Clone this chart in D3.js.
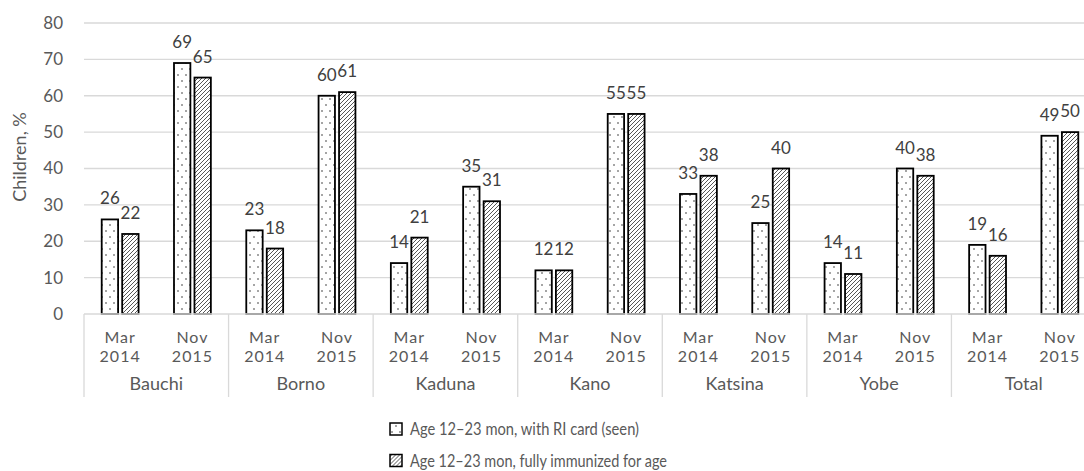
<!DOCTYPE html>
<html><head><meta charset="utf-8">
<script src="https://cdn.jsdelivr.net/npm/d3@7"></script>
<style>html,body{margin:0;padding:0;background:#fff;overflow:hidden}svg{display:block}</style>
</head><body>
<svg id="chart" width="1084" height="471"></svg>
<script>
const states = ["Bauchi","Borno","Kaduna","Kano","Katsina","Yobe","Total"];
const periods = ["Mar 2014","Nov 2015"];
const seriesNames = ["Age 12\u201323 mon, with RI card (seen)","Age 12\u201323 mon, fully immunized for age"];
// values per state: [Mar 2014, Nov 2015]
const withCard = [[26,69],[23,60],[14,35],[12,55],[33,25],[14,40],[19,49]];
const fullyImmunized = [[22,65],[18,61],[21,31],[12,55],[38,40],[11,38],[16,50]];
const yTicks = [0,10,20,30,40,50,60,70,80];

const svg = d3.select("#chart");
const FONT = "Lato, 'Open Sans', sans-serif";
const defs = svg.append("defs");
const dots = defs.append("pattern").attr("id","dots").attr("patternUnits","userSpaceOnUse")
  .attr("width",8).attr("height",12);
dots.append("rect").attr("width",8).attr("height",12).attr("fill","#fff");
dots.append("circle").attr("cx",2).attr("cy",3).attr("r",0.8).attr("fill","#333");
dots.append("circle").attr("cx",6).attr("cy",9).attr("r",0.8).attr("fill","#333");
const hatch = defs.append("pattern").attr("id","hatch").attr("patternUnits","userSpaceOnUse")
  .attr("width",4).attr("height",4);
hatch.append("rect").attr("width",4).attr("height",4).attr("fill","#fff");
hatch.append("path").attr("d","M-1,1 L1,-1 M0,4 L4,0 M3,5 L5,3").attr("stroke","#444").attr("stroke-width",0.9);
const fills = ["url(#dots)","url(#hatch)"];

const x0 = d3.scaleBand().domain(states).range([84,1096]).paddingInner(0).paddingOuter(0);
const x1 = d3.scaleBand().domain(periods).range([0,x0.bandwidth()]);
const x2 = d3.scaleBand().domain([0,1]).range([x1.bandwidth()*0.245,x1.bandwidth()*0.755]).paddingInner(0.2);
const y = d3.scaleLinear().domain([0,80]).range([314,23]);

// gridlines
svg.append("g").selectAll("line").data(yTicks.filter(d=>d>0)).join("line")
  .attr("x1",84).attr("x2",1096).attr("y1",d=>y(d)).attr("y2",d=>y(d))
  .attr("stroke","#d9d9d9").attr("stroke-width",1.3);

// y axis
const yAxis = svg.append("g").attr("transform","translate(63,0)")
  .call(d3.axisLeft(y).tickValues(yTicks).tickSize(0).tickPadding(0));
yAxis.select(".domain").remove();
yAxis.selectAll("text").attr("font-family",FONT).attr("font-size",17).attr("fill","#595959");

svg.append("text").attr("transform","translate(26,157) rotate(-90)").attr("text-anchor","middle")
  .attr("font-family",FONT).attr("font-size",18).attr("fill","#595959").text("Children, %");

// bars
const data = [];
states.forEach((s,i)=>{
  periods.forEach((p,j)=>{
    data.push({s,p,k:0,v:withCard[i][j]});
    data.push({s,p,k:1,v:fullyImmunized[i][j]});
  });
});
const bx = d => x0(d.s)+x1(d.p)+x2(d.k);
svg.append("g").selectAll("rect").data(data).join("rect")
  .attr("x",bx).attr("y",d=>y(d.v)).attr("width",x2.bandwidth()).attr("height",d=>y(0)-y(d.v))
  .attr("fill",d=>fills[d.k]).attr("stroke","#000").attr("stroke-width",1.8);

svg.append("g").selectAll("text").data(data).join("text")
  .attr("x",d=>bx(d)+x2.bandwidth()/2).attr("y",d=>y(d.v)-15)
  .attr("text-anchor","middle").attr("font-family",FONT).attr("font-size",17).attr("fill","#404040")
  .text(d=>d.v);

// x axis line
svg.append("line").attr("x1",84).attr("x2",1096).attr("y1",y(0)).attr("y2",y(0))
  .attr("stroke","#d9d9d9").attr("stroke-width",1.3);
// separators
svg.append("g").selectAll("line").data(states).join("line")
  .attr("x1",d=>x0(d)).attr("x2",d=>x0(d)).attr("y1",y(0)).attr("y2",397)
  .attr("stroke","#d9d9d9").attr("stroke-width",1.3);

// sub labels (two lines each)
const subs = [];
states.forEach(s=>periods.forEach(p=>subs.push({s,p})));
[0,1].forEach(line=>{
  svg.append("g").selectAll("text").data(subs).join("text")
    .attr("x",d=>x0(d.s)+x1(d.p)+x1.bandwidth()/2).attr("y",342.5+line*19.4)
    .attr("text-anchor","middle").attr("font-family",FONT).attr("font-size",16)
    .attr("letter-spacing",1).attr("fill","#595959")
    .text(d=>d.p.split(" ")[line]);
});
svg.append("g").selectAll("text").data(states).join("text")
  .attr("x",d=>x0(d)+x0.bandwidth()/2).attr("y",390).attr("text-anchor","middle")
  .attr("font-family",FONT).attr("font-size",18).attr("fill","#595959").text(d=>d);

// legend
const legendLen = [229,257];
const lg = svg.append("g").selectAll("g").data(seriesNames).join("g")
  .attr("transform",(d,i)=>`translate(390,${429+i*31.5})`);
lg.append("rect").attr("x",0).attr("y",-6).attr("width",12).attr("height",12)
  .attr("fill",(d,i)=>fills[i]).attr("stroke","#000").attr("stroke-width",1.5);
lg.append("text").attr("x",20).attr("y",6).attr("font-family",FONT).attr("font-size",17)
  .attr("textLength",(d,i)=>legendLen[i]).attr("lengthAdjust","spacingAndGlyphs")
  .attr("fill","#595959").text(d=>d);
</script>
</body></html>
